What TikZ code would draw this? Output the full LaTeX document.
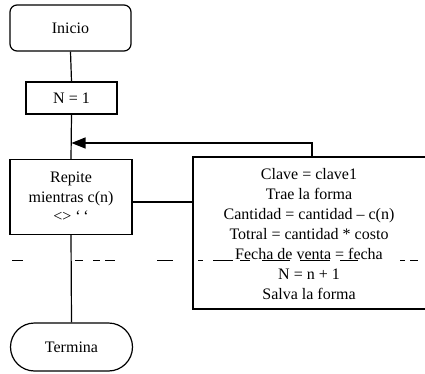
\documentclass[tikz,border=0pt]{standalone}
\usepackage{fontspec}
\setmainfont{Liberation Serif}
\usetikzlibrary{arrows.meta,shapes.misc}
\begin{document}
\begin{tikzpicture}[x=1pt,y=-1pt,
  line/.style={draw=black,line width=1.2pt},
  txt/.style={font=\fontsize{16}{19.5}\selectfont,align=center,inner sep=0pt},
  startbox/.style={line,rounded corners=7pt,minimum width=121pt,minimum height=46pt,txt},
  procbox/.style={line,minimum width=#1,txt},
  endbox/.style={line,rounded rectangle,minimum width=122pt,minimum height=48pt,txt},
  loophead/.style={-{Triangle[length=14pt,width=11pt]}},
  seam/.style={black,line width=0.7pt}]
\useasboundingbox (0,0) rectangle (425,374);
\fill[white] (0,0) rectangle (425,374);

% start terminal and initial assignment
\node[startbox] (inicio) at (70.5,28) {Inicio};
\node[procbox=91pt,minimum height=32pt] (n1) at (71.5,98) {N = 1};

% loop header
\node[procbox=122pt,minimum height=75pt] (repite) at (71,197)
  {Repite\\mientras c(n)\\<> {`}\,{`}};

% loop body: the box runs past the right edge of the page
\coordinate (bodyNW) at (193,157);
\coordinate (bodySW) at (193,309);
\draw[line] (430,157) -- (bodyNW) -- (bodySW) -- (430,309);
\node[txt,font=\fontsize{16}{20}\selectfont] (body) at (309,234)
  {Clave = clave1\\Trae la forma\\Cantidad = cantidad -- c(n)\\
   Totral = cantidad * costo\\Fecha de venta = fecha\\N = n + 1\\Salva la forma};

% end terminal
\node[endbox] (termina) at (71.5,347) {Termina};

% connectors
\draw[line] (inicio.south) -- (n1.north);
\draw[line] (n1.south) -- (repite.north);
\coordinate (link) at (132,202);
\draw[line] (link) -- (link -| bodyNW);
\draw[line] (repite.south) -- (termina.north);
\coordinate (back) at (312,157);
\draw[line,loophead] (back) -- (312,143) -- (n1.south |- 0,143);

% broken rule across the page
\foreach \a/\b in {12/23,75/83,93/100,105/115,157/173,198/203,213/233,
                   240/250,262/290,300/330,340/358,400/405,410/418}
  \draw[seam] (\a,260) -- (\b,260);
\end{tikzpicture}
\end{document}
